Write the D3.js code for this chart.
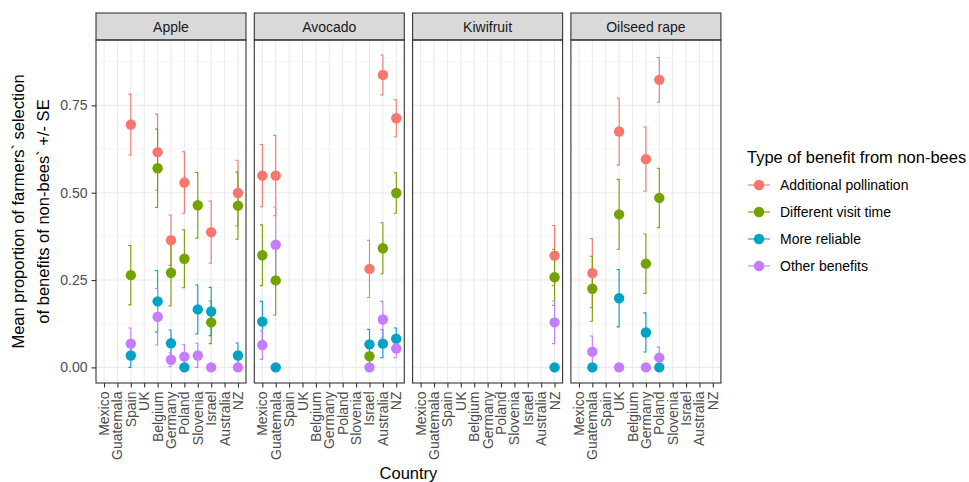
<!DOCTYPE html>
<html>
<head>
<meta charset="utf-8">
<script src="https://cdn.jsdelivr.net/npm/d3@7"></script>
<style>
  body { margin: 0; background: #fff; }
  text { font-family: "Liberation Sans", Arial, sans-serif; }
</style>
</head>
<body>
<svg id="chart" width="969" height="482"></svg>
<script>
const countries = ["Mexico", "Guatemala", "Spain", "UK", "Belgium", "Germany", "Poland", "Slovenia", "Israel", "Australia", "NZ"];
const crops = ["Apple", "Avocado", "Kiwifruit", "Oilseed rape"];
const benefits = ["Additional pollination", "Different visit time", "More reliable", "Other benefits"];
const colors = ["#F8766D", "#74A300", "#00A3C4", "#C77CFF"];
const yTicks = [0, 0.25, 0.5, 0.75];
const yMinor = [0.125, 0.375, 0.625, 0.875];

// [country, benefit index, mean, se]
const appleRows = [
    ["Spain", 0, 0.695, 0.087], ["Spain", 1, 0.264, 0.085], ["Spain", 2, 0.034, 0.035], ["Spain", 3, 0.068, 0.045],
    ["Belgium", 0, 0.616, 0.109], ["Belgium", 1, 0.570, 0.112], ["Belgium", 2, 0.189, 0.088], ["Belgium", 3, 0.145, 0.081],
    ["Germany", 0, 0.364, 0.072], ["Germany", 1, 0.271, 0.095], ["Germany", 2, 0.069, 0.038], ["Germany", 3, 0.022, 0.02],
    ["Poland", 0, 0.529, 0.088], ["Poland", 1, 0.311, 0.083], ["Poland", 2, 0.0, 0.0], ["Poland", 3, 0.031, 0.034],
    ["Slovenia", 1, 0.464, 0.094], ["Slovenia", 2, 0.166, 0.07], ["Slovenia", 3, 0.034, 0.035],
    ["Israel", 0, 0.387, 0.089], ["Israel", 1, 0.129, 0.061], ["Israel", 2, 0.160, 0.069], ["Israel", 3, 0.0, 0.0],
    ["NZ", 0, 0.499, 0.094], ["NZ", 1, 0.463, 0.096], ["NZ", 2, 0.034, 0.036], ["NZ", 3, 0.0, 0.0]
];
const avocadoRows = [
    ["Mexico", 0, 0.549, 0.089], ["Mexico", 1, 0.321, 0.087], ["Mexico", 2, 0.131, 0.058], ["Mexico", 3, 0.064, 0.041],
    ["Guatemala", 0, 0.549, 0.115], ["Guatemala", 1, 0.249, 0.099], ["Guatemala", 2, 0.0, 0.0], ["Guatemala", 3, 0.351, 0.108],
    ["Israel", 0, 0.282, 0.082], ["Israel", 1, 0.032, 0.03], ["Israel", 2, 0.066, 0.043], ["Israel", 3, 0.0, 0.0],
    ["Australia", 0, 0.837, 0.057], ["Australia", 1, 0.341, 0.073], ["Australia", 2, 0.068, 0.04], ["Australia", 3, 0.137, 0.052],
    ["NZ", 0, 0.713, 0.053], ["NZ", 1, 0.499, 0.058], ["NZ", 2, 0.082, 0.031], ["NZ", 3, 0.054, 0.026]
];
const kiwiRows = [
    ["NZ", 0, 0.320, 0.086], ["NZ", 1, 0.258, 0.08], ["NZ", 2, 0.0, 0.0], ["NZ", 3, 0.129, 0.061]
];
const oilseedRows = [
    ["Guatemala", 0, 0.270, 0.099], ["Guatemala", 1, 0.225, 0.093], ["Guatemala", 2, 0.0, 0.0], ["Guatemala", 3, 0.045, 0.045],
    ["UK", 0, 0.675, 0.096], ["UK", 1, 0.438, 0.1], ["UK", 2, 0.198, 0.082], ["UK", 3, 0.0, 0.0],
    ["Germany", 0, 0.596, 0.092], ["Germany", 1, 0.297, 0.085], ["Germany", 2, 0.100, 0.056], ["Germany", 3, 0.0, 0.0],
    ["Poland", 0, 0.823, 0.064], ["Poland", 1, 0.485, 0.085], ["Poland", 2, 0.0, 0.0], ["Poland", 3, 0.028, 0.03]
];
const rowsByCrop = [appleRows, avocadoRows, kiwiRows, oilseedRows];

let svg = d3.select("#chart");

let panelLeft = 96, panelW = 150, gap = 8.3;
let stripTop = 13, panelTop = 40, panelBottom = 383;
let smallFont = "14px", bigFont = "16.5px";

let y = d3.scaleLinear()
    .domain([-0.0446, 0.937])
    .range([panelBottom, panelTop]);

let fx = d3.scaleBand()
    .domain(crops)
    .range([panelLeft, panelLeft + 4 * panelW + 3 * gap])
    .paddingInner(gap / (panelW + gap));

crops.forEach((crop, ci) => {
    let x0 = fx(crop);
    let x = d3.scalePoint()
        .domain(countries)
        .range([x0, x0 + fx.bandwidth()])
        .padding(0.6);

    let g = svg.append("g");

    // grid
    g.selectAll("line.minor")
        .data(yMinor)
        .enter().append("line")
        .attr("x1", x0).attr("x2", x0 + fx.bandwidth())
        .attr("y1", d => y(d)).attr("y2", d => y(d))
        .attr("stroke", "#F2F2F2").attr("stroke-width", 0.7);

    g.selectAll("line.major")
        .data(yTicks)
        .enter().append("line")
        .attr("x1", x0).attr("x2", x0 + fx.bandwidth())
        .attr("y1", d => y(d)).attr("y2", d => y(d))
        .attr("stroke", "#EBEBEB").attr("stroke-width", 1.1);

    g.selectAll("line.vgrid")
        .data(countries)
        .enter().append("line")
        .attr("x1", d => x(d)).attr("x2", d => x(d))
        .attr("y1", panelTop).attr("y2", panelBottom)
        .attr("stroke", "#EBEBEB").attr("stroke-width", 1.1);

    // strip
    g.append("rect")
        .attr("x", x0).attr("y", stripTop)
        .attr("width", fx.bandwidth()).attr("height", panelTop - stripTop)
        .attr("fill", "#D9D9D9").attr("stroke", "#333").attr("stroke-width", 1.1);
    g.append("text")
        .attr("x", x0 + fx.bandwidth() / 2).attr("y", (stripTop + panelTop) / 2)
        .attr("text-anchor", "middle").attr("dominant-baseline", "central")
        .attr("font-size", smallFont).attr("fill", "#1A1A1A")
        .text(crop);

    // error bars and points
    let rows = rowsByCrop[ci].map(r => ({country: r[0], b: r[1], mean: r[2], se: r[3]}));

    g.selectAll("path.err")
        .data(rows)
        .enter().append("path")
        .attr("d", d => {
            let cx = x(d.country), lo = y(Math.max(0, d.mean - d.se)), hi = y(d.mean + d.se);
            return `M${cx - 2.5},${hi}H${cx}V${lo}H${cx - 2.5}`;
        })
        .attr("fill", "none")
        .attr("stroke", d => colors[d.b])
        .attr("stroke-width", 1.1);

    g.selectAll("circle.pt")
        .data(rows)
        .enter().append("circle")
        .attr("cx", d => x(d.country))
        .attr("cy", d => y(d.mean))
        .attr("r", 5.2)
        .attr("fill", d => colors[d.b]);

    // panel border
    g.append("rect")
        .attr("x", x0).attr("y", panelTop)
        .attr("width", fx.bandwidth()).attr("height", panelBottom - panelTop)
        .attr("fill", "none").attr("stroke", "#333").attr("stroke-width", 1.1);

    // x axis
    let xa = svg.append("g")
        .attr("transform", `translate(0,${panelBottom})`)
        .call(d3.axisBottom(x).tickSize(4.5).tickFormat(""));
    xa.select(".domain").remove();
    xa.selectAll("line").attr("stroke", "#333").attr("stroke-width", 1.1);

    svg.append("g").selectAll("text")
        .data(countries)
        .enter().append("text")
        .attr("transform", d => `translate(${x(d)},${panelBottom + 8.5}) rotate(-90)`)
        .attr("text-anchor", "end")
        .attr("dominant-baseline", "central")
        .attr("font-size", smallFont).attr("fill", "#4D4D4D")
        .text(d => d);
});

// y axis
let ya = svg.append("g")
    .attr("transform", `translate(${panelLeft},0)`)
    .call(d3.axisLeft(y).tickValues(yTicks).tickSize(4.5).tickPadding(4).tickFormat(d3.format(".2f")));
ya.select(".domain").remove();
ya.selectAll("line").attr("stroke", "#333").attr("stroke-width", 1.1);
ya.selectAll("text")
    .attr("font-size", smallFont).attr("fill", "#4D4D4D")
    .style("font-family", "Liberation Sans, Arial, sans-serif");

// axis titles
let yMid = (panelTop + panelBottom) / 2;
[["Mean proportion of farmers` selection", 18], ["of benefits of non-bees` +/- SE", 43]].forEach(([t, xx]) => {
    svg.append("text")
        .attr("transform", `translate(${xx},${yMid}) rotate(-90)`)
        .attr("text-anchor", "middle").attr("dominant-baseline", "central")
        .attr("font-size", bigFont).attr("fill", "#000")
        .text(t);
});

svg.append("text")
    .attr("x", (panelLeft + fx.range()[1]) / 2).attr("y", 479)
    .attr("text-anchor", "middle")
    .attr("font-size", bigFont).attr("fill", "#000")
    .text("Country");

// legend
let legend = svg.append("g").attr("transform", "translate(747,0)");
legend.append("text")
    .attr("x", 0).attr("y", 163)
    .attr("font-size", bigFont).attr("fill", "#000")
    .text("Type of benefit from non-bees");

let items = legend.selectAll("g.item")
    .data(benefits)
    .enter().append("g")
    .attr("transform", (d, i) => `translate(0,${185 + i * 27})`);
items.append("line")
    .attr("x1", 1).attr("x2", 23).attr("y1", 0).attr("y2", 0)
    .attr("stroke", (d, i) => colors[i]).attr("stroke-width", 1.1);
items.append("circle")
    .attr("cx", 12).attr("cy", 0).attr("r", 5.2)
    .attr("fill", (d, i) => colors[i]);
items.append("text")
    .attr("x", 33).attr("y", 0)
    .attr("dominant-baseline", "central")
    .attr("font-size", smallFont).attr("fill", "#000")
    .text(d => d);
</script>
</body>
</html>
